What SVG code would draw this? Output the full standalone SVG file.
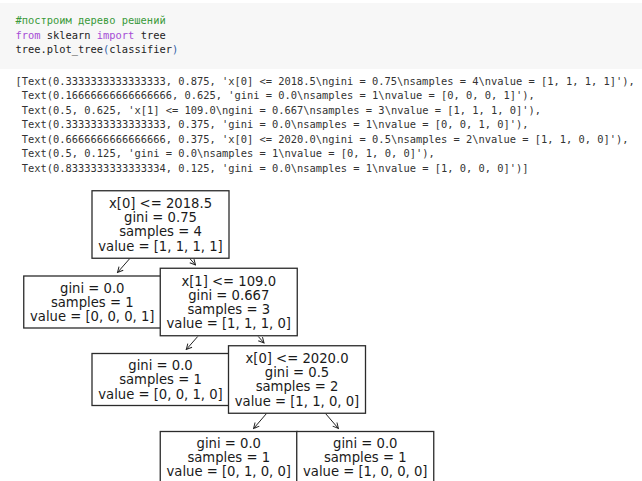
<svg xmlns="http://www.w3.org/2000/svg" width="642" height="481" viewBox="0 0 642 481">
<style>
.code{font-family:"DejaVu Sans Mono","Liberation Mono",monospace;font-size:10.4px;fill:#222}
.cm{fill:#3a9a3a}
.kw{fill:#a64cd6}
.par{fill:#3060a8}
.out{font-family:"DejaVu Sans Mono","Liberation Mono",monospace;font-size:10.4px;fill:#333}
.nt{font-family:"DejaVu Sans","Noto Sans",sans-serif;font-size:13.2px;fill:#1a1a1a;text-anchor:middle}
.box{fill:#fff;stroke:#2b2b2b;stroke-width:1.3}
.edge{fill:none;stroke:#222;stroke-width:1}
</style>
<defs>
<marker id="ah" viewBox="-7 -4 8 8" refX="0" refY="0" markerWidth="8" markerHeight="8" orient="auto" markerUnits="userSpaceOnUse">
<path d="M-5.5,-2.8 L0,0 L-5.5,2.8" fill="none" stroke="#222" stroke-width="1"/>
</marker>
</defs>
<rect x="0" y="0" width="642" height="481" fill="#fff"/>
<rect x="0" y="3" width="642" height="66" fill="#f7f7f7"/>
<g id="code">
<text class="code" x="15.5" y="24"><tspan class="cm">#построим дерево решений</tspan></text>
<text class="code" x="15.5" y="38.6"><tspan class="kw">from</tspan> sklearn <tspan class="kw">import</tspan> tree</text>
<text class="code" x="15.5" y="53.2">tree.plot_tree<tspan class="par">(</tspan>classifier<tspan class="par">)</tspan></text>
</g>
<g id="output">
<text class="out" x="15.5" y="84.5">[Text(0.3333333333333333, 0.875, 'x[0] &lt;= 2018.5\ngini = 0.75\nsamples = 4\nvalue = [1, 1, 1, 1]'),</text>
<text class="out" x="21.8" y="99">Text(0.16666666666666666, 0.625, 'gini = 0.0\nsamples = 1\nvalue = [0, 0, 0, 1]'),</text>
<text class="out" x="21.8" y="113.5">Text(0.5, 0.625, 'x[1] &lt;= 109.0\ngini = 0.667\nsamples = 3\nvalue = [1, 1, 1, 0]'),</text>
<text class="out" x="21.8" y="128">Text(0.3333333333333333, 0.375, 'gini = 0.0\nsamples = 1\nvalue = [0, 0, 1, 0]'),</text>
<text class="out" x="21.8" y="142.5">Text(0.6666666666666666, 0.375, 'x[0] &lt;= 2020.0\ngini = 0.5\nsamples = 2\nvalue = [1, 1, 0, 0]'),</text>
<text class="out" x="21.8" y="157">Text(0.5, 0.125, 'gini = 0.0\nsamples = 1\nvalue = [0, 1, 0, 0]'),</text>
<text class="out" x="21.8" y="171.5">Text(0.8333333333333334, 0.125, 'gini = 0.0\nsamples = 1\nvalue = [1, 0, 0, 0]')]</text>
</g>
<g id="connectors">
<line class="edge" x1="129.8" y1="258.5" x2="117.5" y2="272.5" marker-end="url(#ah)"/>
<line class="edge" x1="189.8" y1="258.5" x2="195.5" y2="265" marker-end="url(#ah)"/>
<line class="edge" x1="197.7" y1="336.5" x2="186.3" y2="349.5" marker-end="url(#ah)"/>
<line class="edge" x1="258.3" y1="336.5" x2="264" y2="343" marker-end="url(#ah)"/>
<line class="edge" x1="266.5" y1="413.5" x2="253.6" y2="428.5" marker-end="url(#ah)"/>
<line class="edge" x1="325.5" y1="413.5" x2="338.4" y2="428.5" marker-end="url(#ah)"/>
</g>
<g id="node0">
<rect class="box" x="92" y="190.75" width="137" height="67.5"/>
<text class="nt" x="160.5" y="208">x[0] &lt;= 2018.5</text>
<text class="nt" x="160.5" y="222.2">gini = 0.75</text>
<text class="nt" x="160.5" y="236.4">samples = 4</text>
<text class="nt" x="160.5" y="250.6">value = [1, 1, 1, 1]</text>
</g>
<g id="node1">
<rect class="box" x="23.75" y="276" width="137" height="52"/>
<text class="nt" x="92.25" y="292.6">gini = 0.0</text>
<text class="nt" x="92.25" y="306.8">samples = 1</text>
<text class="nt" x="92.25" y="321">value = [0, 0, 0, 1]</text>
</g>
<g id="node2">
<rect class="box" x="160.25" y="268.25" width="137" height="67.5"/>
<text class="nt" x="228.75" y="285.5">x[1] &lt;= 109.0</text>
<text class="nt" x="228.75" y="299.7">gini = 0.667</text>
<text class="nt" x="228.75" y="313.9">samples = 3</text>
<text class="nt" x="228.75" y="328.1">value = [1, 1, 1, 0]</text>
</g>
<g id="node3">
<rect class="box" x="92" y="353.5" width="137" height="52"/>
<text class="nt" x="160.5" y="370.1">gini = 0.0</text>
<text class="nt" x="160.5" y="384.3">samples = 1</text>
<text class="nt" x="160.5" y="398.5">value = [0, 0, 1, 0]</text>
</g>
<g id="node4">
<rect class="box" x="228.5" y="345.75" width="137" height="67.5"/>
<text class="nt" x="297" y="363">x[0] &lt;= 2020.0</text>
<text class="nt" x="297" y="377.2">gini = 0.5</text>
<text class="nt" x="297" y="391.4">samples = 2</text>
<text class="nt" x="297" y="405.6">value = [1, 1, 0, 0]</text>
</g>
<g id="node5">
<rect class="box" x="160.25" y="431.5" width="137" height="52"/>
<text class="nt" x="228.75" y="447.6">gini = 0.0</text>
<text class="nt" x="228.75" y="461.8">samples = 1</text>
<text class="nt" x="228.75" y="476">value = [0, 1, 0, 0]</text>
</g>
<g id="node6">
<rect class="box" x="296.75" y="431.5" width="137" height="52"/>
<text class="nt" x="365.25" y="447.6">gini = 0.0</text>
<text class="nt" x="365.25" y="461.8">samples = 1</text>
<text class="nt" x="365.25" y="476">value = [1, 0, 0, 0]</text>
</g>
</svg>
